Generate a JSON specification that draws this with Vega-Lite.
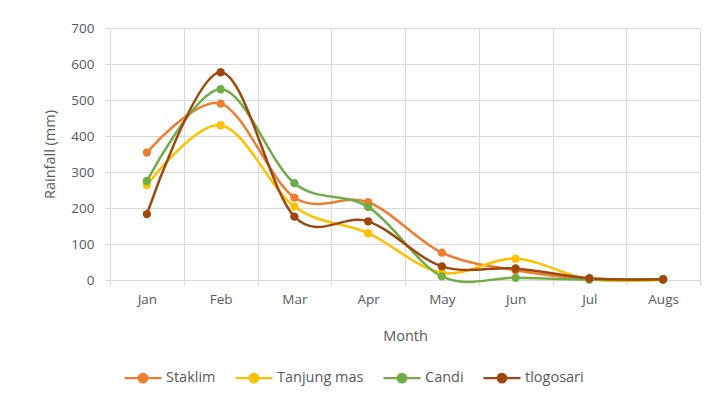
{
  "$schema": "https://vega.github.io/schema/vega-lite/v6.json",
  "width": 590,
  "height": 252,
  "autosize": {"type": "none"},
  "padding": {"left": 110, "top": 28, "right": 16, "bottom": 121},
  "background": "white",
  "config": {
    "view": {"stroke": "#d9d9d9", "strokeWidth": 1},
    "font": "Open Sans",
    "axis": {"labelFont": "Open Sans", "titleFont": "Open Sans", "labelColor": "#595959", "titleColor": "#595959", "labelFontSize": 13.5, "titleFontSize": 14.5, "titleFontWeight": "normal", "gridColor": "#d9d9d9", "tickColor": "#d9d9d9", "domainColor": "#d9d9d9"},
    "legend": {"labelFont": "Open Sans", "labelColor": "#595959", "labelFontSize": 14.5}
  },
  "data": {
    "values": [
      {"month": "Jan", "station": "Staklim", "rain": 354},
      {"month": "Feb", "station": "Staklim", "rain": 490},
      {"month": "Mar", "station": "Staklim", "rain": 229},
      {"month": "Apr", "station": "Staklim", "rain": 216},
      {"month": "May", "station": "Staklim", "rain": 76},
      {"month": "Jun", "station": "Staklim", "rain": 27},
      {"month": "Jul", "station": "Staklim", "rain": 3},
      {"month": "Augs", "station": "Staklim", "rain": 2},
      {"month": "Jan", "station": "Tanjung mas", "rain": 264},
      {"month": "Feb", "station": "Tanjung mas", "rain": 430},
      {"month": "Mar", "station": "Tanjung mas", "rain": 204},
      {"month": "Apr", "station": "Tanjung mas", "rain": 130},
      {"month": "May", "station": "Tanjung mas", "rain": 20},
      {"month": "Jun", "station": "Tanjung mas", "rain": 59},
      {"month": "Jul", "station": "Tanjung mas", "rain": 2},
      {"month": "Augs", "station": "Tanjung mas", "rain": 1},
      {"month": "Jan", "station": "Candi", "rain": 275},
      {"month": "Feb", "station": "Candi", "rain": 530},
      {"month": "Mar", "station": "Candi", "rain": 269},
      {"month": "Apr", "station": "Candi", "rain": 203},
      {"month": "May", "station": "Candi", "rain": 10},
      {"month": "Jun", "station": "Candi", "rain": 6},
      {"month": "Jul", "station": "Candi", "rain": 1},
      {"month": "Augs", "station": "Candi", "rain": 1},
      {"month": "Jan", "station": "tlogosari", "rain": 183},
      {"month": "Feb", "station": "tlogosari", "rain": 577},
      {"month": "Mar", "station": "tlogosari", "rain": 176},
      {"month": "Apr", "station": "tlogosari", "rain": 163},
      {"month": "May", "station": "tlogosari", "rain": 38},
      {"month": "Jun", "station": "tlogosari", "rain": 32},
      {"month": "Jul", "station": "tlogosari", "rain": 5},
      {"month": "Augs", "station": "tlogosari", "rain": 2}
    ]
  },
  "encoding": {
    "x": {
      "field": "month", "type": "nominal",
      "sort": ["Jan", "Feb", "Mar", "Apr", "May", "Jun", "Jul", "Augs"],
      "scale": {"type": "band", "paddingInner": 0, "paddingOuter": 0},
      "axis": {"title": "Month", "labelAngle": 0, "grid": true, "bandPosition": 0, "tickBand": "extent", "tickSize": 5, "labelPadding": 7, "titlePadding": 24, "domain": true}
    },
    "y": {
      "field": "rain", "type": "quantitative",
      "scale": {"domain": [0, 700]},
      "axis": {"title": "Rainfall (mm)", "values": [0, 100, 200, 300, 400, 500, 600, 700], "tickSize": 5, "labelPadding": 11, "titlePadding": 13, "domain": false}
    },
    "color": {
      "field": "station", "type": "nominal",
      "sort": ["Staklim", "Tanjung mas", "Candi", "tlogosari"],
      "scale": {"domain": ["Staklim", "Tanjung mas", "Candi", "tlogosari"], "range": ["#ED7D31", "#FFC000", "#70AD47", "#9E480E"]},
      "legend": {
        "title": null, "orient": "none", "direction": "horizontal", "legendX": 13, "legendY": 330,
        "symbolType": "M-1,0L1,0M-0.23,0A0.23,0.23,0,1,0,0.23,0A0.23,0.23,0,1,0,-0.23,0Z",
        "symbolSize": 1369, "symbolStrokeWidth": 2.25, "columnPadding": 15, "labelOffset": 3
      }
    }
  },
  "layer": [
    {"mark": {"type": "line", "interpolate": "cardinal", "strokeWidth": 2.5}},
    {"mark": {"type": "point", "filled": true, "size": 70, "opacity": 1}}
  ]
}
